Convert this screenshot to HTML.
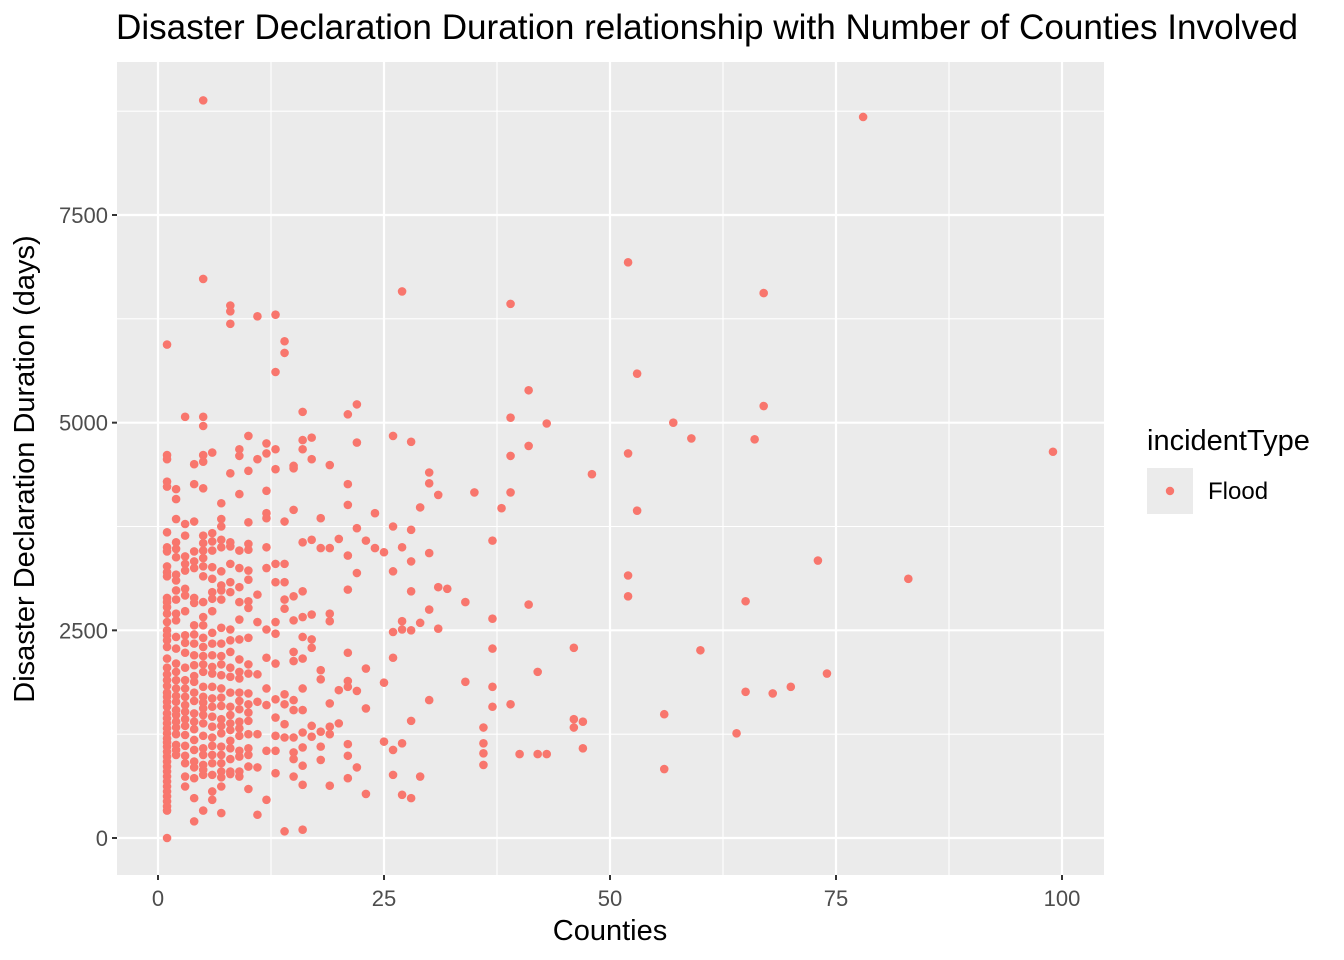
<!DOCTYPE html>
<html><head><meta charset="utf-8">
<style>
body{margin:0;background:#fff;}
svg{display:block;font-family:"Liberation Sans",Arial,sans-serif;}
</style></head>
<body>
<svg id="chart" width="1344" height="960">
<text x="116" y="39" font-size="35" textLength="1182" lengthAdjust="spacingAndGlyphs" fill="#000">Disaster Declaration Duration relationship with Number of Counties Involved</text>
<rect x="117" y="62" width="987" height="813" fill="#ebebeb"/>
<g id="grid"></g>
<g id="points"></g>
<g id="axes"></g>
<text x="610" y="940" font-size="29" text-anchor="middle" fill="#000">Counties</text>
<text transform="translate(34,469) rotate(-90)" font-size="29" text-anchor="middle" fill="#000">Disaster Declaration Duration (days)</text>
<g>
<text x="1147" y="450" font-size="29" fill="#000">incidentType</text>
<rect x="1147" y="468" width="46" height="46" fill="#ebebeb"/>
<circle cx="1170" cy="491" r="4.2" fill="#F8766D"/>
<text x="1208" y="499" font-size="24" fill="#000">Flood</text>
</g>
</svg>
<script>
const xTicks=[0,25,50,75,100];
const yTicks=[0,2500,5000,7500];
const sparseX=[5,78,99,83,73,74,70,68,65,64,65,66,67,67,60,59,57,56,56,53,53,52,52,52,52,48,47,47,46,46,46,43,43,42,42,41,41,41,40,39,39,39,39,39,38,37,37,37,37,37,36,36,36,36,35,34,34,32,31,31,31,30,30,30,30,30,29,29,29,28,28,28,28,28,28,28,27,27,27,27,27,27,26,26,26,26,26,26,26,25,25,25,24,24,23,23,23,23,22,22,22,22,22,22,21,21,21,21,21,21,21,21,21,21,21,20,20,20,19,19,19,19,19,19,19,19,18,18,18,18,18,18,18,17,17,17,17,17,17,17,17,16,16,16,16,16,16,16,16,16,16,16,16,16,16,16,15,15,15,15,15,15,15,15,15,15,15,15,15,14,14,14,14,14,14,14,14,14,14,14,14,13,13,13,13,13,13,13,13,13,13,13,13,13,13,12,12,12,12,12,12,12,12,12,12,12,12,12,11,11,11,11,11,11,11,11,11];
const sparseY=[8880,8680,4650,3120,3340,1980,1820,1740,1760,1260,2850,4800,5200,6560,2260,4810,5000,1490,830,5590,3940,6930,4630,3160,2910,4380,1400,1080,1430,1330,2290,4990,1010,2000,1010,5390,4720,2810,1010,6430,5060,4600,4160,1610,3970,3580,2640,2280,1820,1580,1330,1140,1020,880,4160,2840,1880,3000,3020,4130,2520,4400,4270,3430,2750,1660,3980,2590,740,4770,3710,3330,2970,2500,1410,480,6580,3500,2610,2510,1140,520,4840,3750,3210,2480,2170,1060,760,3440,1870,1160,3910,3490,3580,2040,1560,530,5220,4760,3730,3190,1770,850,5100,4260,4010,3400,2990,2230,1890,1820,1130,990,720,3600,1780,1380,4490,3490,2700,2610,1620,1340,1250,630,3850,3490,2020,1910,1280,1100,940,4820,4560,3590,2690,2390,2290,1350,1220,5130,4790,4680,3560,2970,2660,2420,2160,1800,1540,1270,1090,870,640,100,4480,4450,3950,2910,2620,2240,2130,1660,1540,1210,1030,950,740,5980,5840,3810,3300,3080,2870,2760,1730,1610,1370,1210,80,6300,5610,4680,4440,3300,3080,2600,2460,2100,1670,1450,1230,1050,780,4750,4630,4180,3910,3850,3500,3250,2510,2170,1800,1600,1050,460,6280,4560,2930,2600,1970,1640,1250,850,280];
const yAt1=[5940,4610,4560,4290,4230,3680,3500,3450,3270,3200,3150,2890,2840,2780,2700,2600,2500,2440,2380,2300,2160,2050,1970,1900,1830,1750,1700,1640,1580,1500,1440,1380,1320,1260,1200,1150,1100,1040,980,920,860,800,740,680,620,560,500,440,380,330,0];
const yAt2=[4200,4080,3840,3560,3480,3380,3170,3100,2980,2870,2700,2620,2420,2280,2100,2000,1900,1800,1710,1640,1540,1480,1400,1330,1250,1120,1060,1000];
const yAt3=[5070,3780,3640,3390,3300,3220,3000,2920,2730,2440,2350,2230,2050,1900,1800,1700,1600,1520,1430,1350,1240,1110,990,900,740,620];
const yAt4=[4500,4260,3810,3450,3330,3250,2890,2830,2560,2450,2340,2200,2080,1950,1880,1750,1650,1500,1400,1310,1180,1060,920,850,720,480,200];
const yAt5=[6730,5070,4960,4610,4530,4210,3640,3550,3460,3370,3270,3150,2840,2660,2560,2410,2300,2190,2090,2000,1820,1700,1630,1560,1480,1380,1230,1080,1000,880,820,760,330];
const yAt6=[4640,3670,3570,3460,3260,3120,2960,2880,2730,2470,2340,2200,2060,1980,1820,1680,1580,1460,1340,1210,1110,1000,900,760,560,460];
const yAt7=[4030,3840,3750,3590,3500,3210,3040,2980,2870,2530,2340,2190,2090,1960,1800,1690,1590,1430,1350,1260,1100,1000,900,800,730,620,300];
const yAt8=[6410,6340,6190,4390,3560,3510,3300,3080,2960,2510,2380,2240,2050,1940,1750,1580,1480,1380,1300,1170,1080,950,800,770];
const yAt9=[4680,4600,4140,3460,3250,3020,2840,2630,2390,2150,2000,1920,1750,1650,1550,1400,1320,1230,1050,980,800,740];
const yAt10=[4840,4420,3800,3540,3470,3220,3110,2850,2770,2410,2090,1980,1740,1610,1510,1410,1250,1080,1000,860,590];

const NS="http://www.w3.org/2000/svg";
const X0=117,X1=1104,Y0=62,Y1=875;
function sx(v){return 158+v*(1062-158)/100;}
function sy(v){return 838-v*(838-215)/7500;}
const grid=document.getElementById('grid');
function line(g,x1,y1,x2,y2,w,c,name){
  const l=document.createElementNS(NS,'line');
  l.setAttribute('x1',x1);l.setAttribute('y1',y1);l.setAttribute('x2',x2);l.setAttribute('y2',y2);
  l.setAttribute('stroke',c);l.setAttribute('stroke-width',w);
  
  
  g.appendChild(l);
}
for(let i=0;i<xTicks.length-1;i++){const m=(xTicks[i]+xTicks[i+1])/2;line(grid,sx(m),Y0,sx(m),Y1,1.1,'#fff','x-minor-grid');}
for(let i=0;i<yTicks.length;i++){const m=yTicks[i]+1250;line(grid,X0,sy(m),X1,sy(m),1.1,'#fff','y-minor-grid');}
xTicks.forEach(t=>line(grid,sx(t),Y0,sx(t),Y1,2.2,'#fff','x-major-grid'));
yTicks.forEach(t=>line(grid,X0,sy(t),X1,sy(t),2.2,'#fff','y-major-grid'));
const axes=document.getElementById('axes');
function txt(x,y,s,anchor,name){
  const t=document.createElementNS(NS,'text');
  t.setAttribute('x',x);t.setAttribute('y',y);t.setAttribute('font-size','22');
  t.setAttribute('fill','#4d4d4d');t.setAttribute('text-anchor',anchor);t.textContent=s;
  
  
  axes.appendChild(t);
}
xTicks.forEach(t=>{line(axes,sx(t),Y1,sx(t),Y1+5,2,'#333','x-tick');txt(sx(t),Y1+31,String(t),'middle','x-tick-label');});
yTicks.forEach(t=>{line(axes,X0-5,sy(t),X0,sy(t),2,'#333','y-tick');txt(X0-9,sy(t)+8,String(t),'end','y-tick-label');});
const allX=sparseX.slice(),allY=sparseY.slice();
[yAt1,yAt2,yAt3,yAt4,yAt5,yAt6,yAt7,yAt8,yAt9,yAt10].forEach((col,i)=>col.forEach(v=>{allX.push(i+1);allY.push(v);}));
const pts=document.getElementById('points');
for(let i=0;i<allX.length;i++){
  const c=document.createElementNS(NS,'circle');
  c.setAttribute('cx',sx(allX[i]));c.setAttribute('cy',sy(allY[i]));c.setAttribute('r',4.3);c.setAttribute('fill','#F8766D');
  
  
  pts.appendChild(c);
}
</script>
</body></html>
